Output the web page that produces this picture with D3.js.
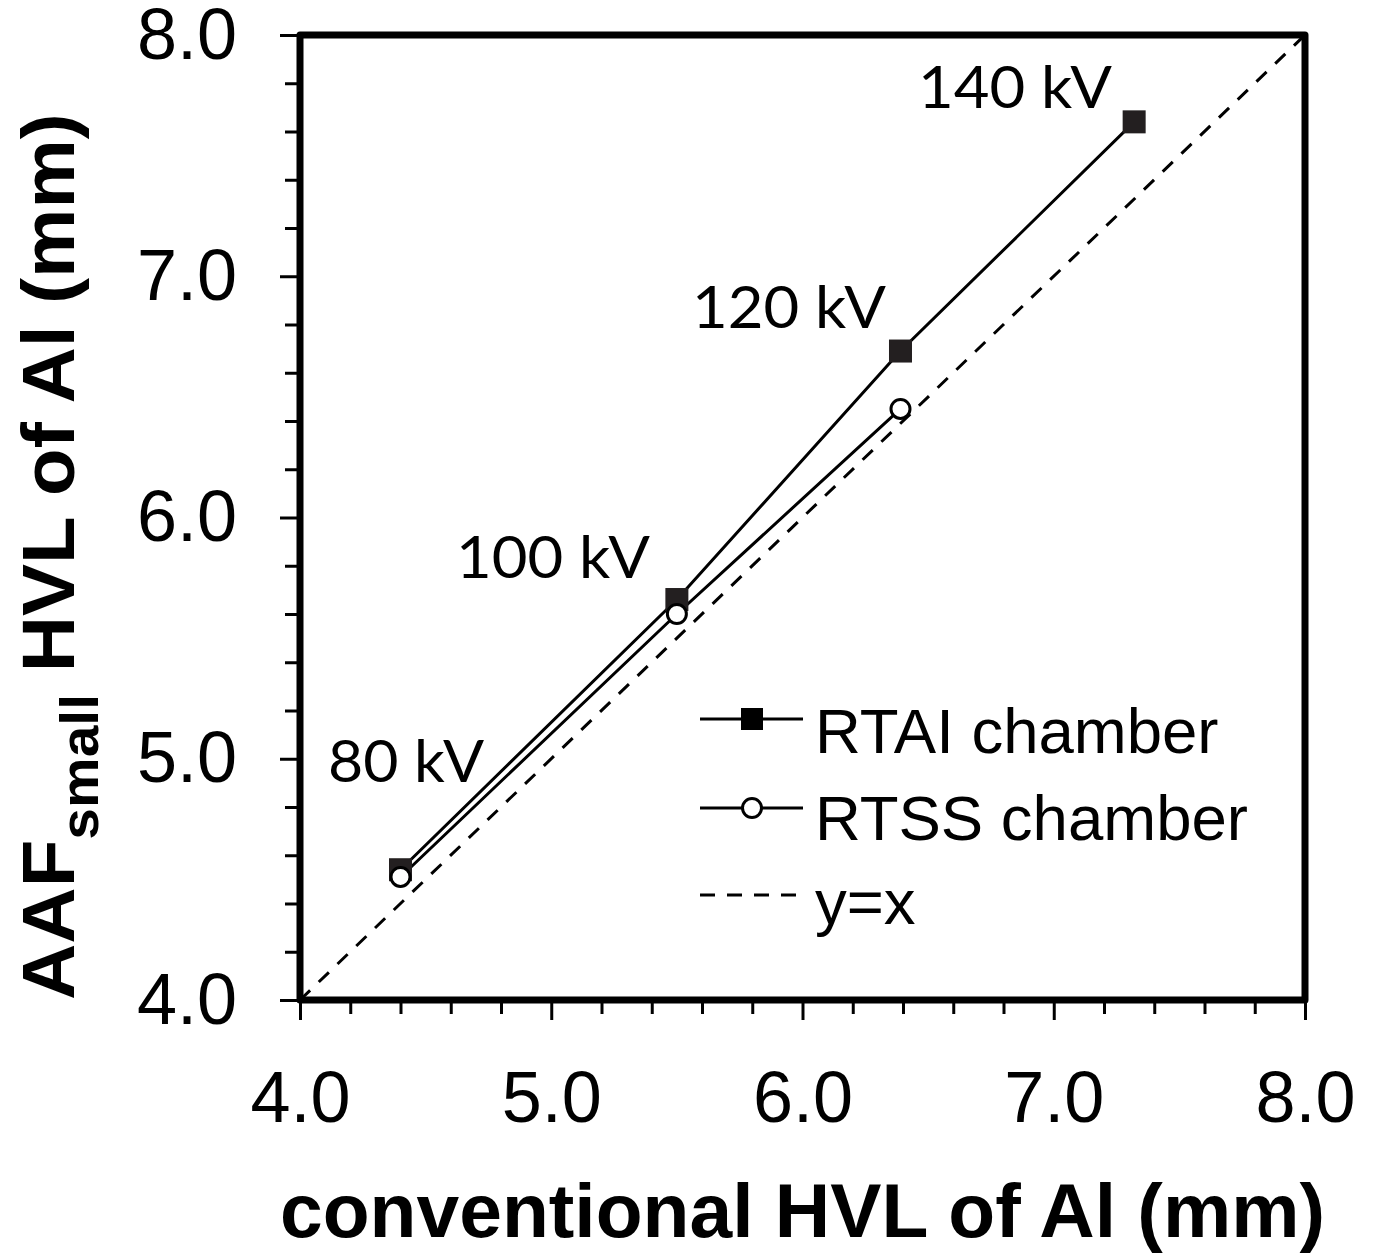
<!DOCTYPE html>
<html>
<head>
<meta charset="utf-8">
<script src="https://cdn.jsdelivr.net/npm/d3@7"></script>
<style>
  html, body { margin: 0; padding: 0; background: #fff; }
  svg { display: block; }
</style>
</head>
<body>
<svg id="chart" width="1378" height="1253"></svg>
<script>
// Half-value layer of aluminium: small-field AAF vs conventional measurement
const tubeVoltages = ["80 kV", "100 kV", "120 kV", "140 kV"];
const conventionalHVL = [4.40, 5.50, 6.39, 7.32];
const rtaiHVL = [4.54, 5.66, 6.69, 7.64];
const rtssHVL = [4.51, 5.60, 6.45];
const majorTicks = [4, 5, 6, 7, 8];
const minorTicks = [4.2, 4.4, 4.6, 4.8, 5.2, 5.4, 5.6, 5.8, 6.2, 6.4, 6.6, 6.8, 7.2, 7.4, 7.6, 7.8];
const tickLabels = ["4.0", "5.0", "6.0", "7.0", "8.0"];
const legendLabels = ["RTAI chamber", "RTSS chamber", "y=x"];

const svg = d3.select("#chart");
const plotLeft = 300, plotRight = 1305, plotTop = 35, plotBottom = 1000;

const x = d3.scaleLinear().domain([4, 8]).range([plotLeft, plotRight]);
const y = d3.scaleLinear().domain([4, 8]).range([plotBottom, plotTop]);

const sans = "'Liberation Sans', Arial, Helvetica, sans-serif";
const labelFont = "Lato, 'Open Sans', sans-serif";

// ---- ticks ----
function styleAxis(g) {
  g.select(".domain").remove();
  g.selectAll(".tick line").attr("stroke", "#000").attr("stroke-width", 3);
  g.selectAll(".tick text").attr("fill", "#000").attr("font-family", sans).attr("font-size", 72);
}

svg.append("g").attr("transform", `translate(${plotLeft},0)`)
  .call(d3.axisLeft(y).tickValues(minorTicks).tickSize(15).tickFormat(""))
  .call(styleAxis);
svg.append("g").attr("transform", `translate(${plotLeft},0)`)
  .call(d3.axisLeft(y).tickValues(majorTicks).tickSize(20).tickPadding(43)
        .tickFormat((d, i) => tickLabels[i]))
  .call(styleAxis);

svg.append("g").attr("transform", `translate(0,${plotBottom})`)
  .call(d3.axisBottom(x).tickValues(minorTicks).tickSize(14).tickFormat(""))
  .call(styleAxis);
svg.append("g").attr("transform", `translate(0,${plotBottom})`)
  .call(d3.axisBottom(x).tickValues(majorTicks).tickSize(20).tickPadding(51)
        .tickFormat((d, i) => tickLabels[i]))
  .call(styleAxis);

// ---- identity line ----
svg.append("line")
  .attr("x1", x(4)).attr("y1", y(4)).attr("x2", x(8)).attr("y2", y(8))
  .attr("stroke", "#000").attr("stroke-width", 3).attr("stroke-dasharray", "14,12");

// ---- series ----
const line = d3.line().x(d => x(d[0])).y(d => y(d[1]));
const rtaiPts = conventionalHVL.map((v, i) => [v, rtaiHVL[i]]);
const rtssPts = rtssHVL.map((v, i) => [conventionalHVL[i], v]);

svg.append("path").datum(rtaiPts).attr("d", line)
  .attr("fill", "none").attr("stroke", "#000").attr("stroke-width", 3);
svg.append("path").datum(rtssPts).attr("d", line)
  .attr("fill", "none").attr("stroke", "#000").attr("stroke-width", 3);

const sq = 23;
svg.selectAll("rect.rtai").data(rtaiPts).enter().append("rect")
  .attr("class", "rtai")
  .attr("x", d => x(d[0]) - sq / 2).attr("y", d => y(d[1]) - sq / 2)
  .attr("width", sq).attr("height", sq)
  .attr("fill", "#231f20");
svg.selectAll("circle.rtss").data(rtssPts).enter().append("circle")
  .attr("class", "rtss")
  .attr("cx", d => x(d[0])).attr("cy", d => y(d[1])).attr("r", 9.5)
  .attr("fill", "#fff").attr("stroke", "#000").attr("stroke-width", 3);

// ---- voltage labels ----
const labelPos = [[328, 782, 156], [456, 578, 194], [692, 328, 194], [918, 108, 194]];
svg.selectAll("text.kv").data(tubeVoltages).enter().append("text")
  .attr("class", "kv")
  .attr("x", (d, i) => labelPos[i][0]).attr("y", (d, i) => labelPos[i][1])
  .attr("textLength", (d, i) => labelPos[i][2]).attr("lengthAdjust", "spacingAndGlyphs")
  .attr("font-family", labelFont).attr("font-size", 59).attr("fill", "#000")
  .text(d => d);

// ---- frame ----
svg.append("rect")
  .attr("x", plotLeft).attr("y", plotTop)
  .attr("width", plotRight - plotLeft).attr("height", plotBottom - plotTop)
  .attr("fill", "none").attr("stroke", "#000").attr("stroke-width", 7)
  .attr("stroke-linejoin", "round");

// ---- legend ----
const lg = svg.append("g");
const lx0 = 700, lx1 = 803, lmid = 752, ltext = 815;
const rows = [719, 808, 895];
lg.append("line").attr("x1", lx0).attr("x2", lx1).attr("y1", rows[0]).attr("y2", rows[0])
  .attr("stroke", "#000").attr("stroke-width", 3);
lg.append("rect").attr("x", lmid - 11).attr("y", rows[0] - 11).attr("width", 22).attr("height", 22)
  .attr("fill", "#000");
lg.append("line").attr("x1", lx0).attr("x2", lx1).attr("y1", rows[1]).attr("y2", rows[1])
  .attr("stroke", "#000").attr("stroke-width", 3);
lg.append("circle").attr("cx", lmid).attr("cy", rows[1]).attr("r", 9.5)
  .attr("fill", "#fff").attr("stroke", "#000").attr("stroke-width", 3);
lg.append("line").attr("x1", lx0).attr("x2", lx1).attr("y1", rows[2]).attr("y2", rows[2])
  .attr("stroke", "#000").attr("stroke-width", 3).attr("stroke-dasharray", "15,12");
const textBase = [753, 840, 924];
lg.selectAll("text").data(legendLabels).enter().append("text")
  .attr("x", ltext).attr("y", (d, i) => textBase[i])
  .attr("font-family", sans).attr("font-size", 63.5).attr("fill", "#000")
  .text(d => d);

// ---- axis titles ----
svg.append("text")
  .attr("x", 280).attr("y", 1237)
  .attr("textLength", 1045).attr("lengthAdjust", "spacingAndGlyphs")
  .attr("font-family", sans).attr("font-weight", "bold").attr("font-size", 76)
  .attr("fill", "#000")
  .text("conventional HVL of Al (mm)");

const yt = svg.append("text")
  .attr("transform", "translate(74,1000) rotate(-90)")
  .attr("font-family", sans).attr("font-weight", "bold").attr("font-size", 74)
  .attr("fill", "#000");
yt.append("tspan").text("AAF");
yt.append("tspan").attr("dy", 24).attr("font-size", 54).text("small");
yt.append("tspan").attr("dy", -24).text(" HVL of Al (mm)");
// fit the rotated title to its span along the axis
const span = 887;
const w = yt.node().getComputedTextLength();
yt.attr("transform", `translate(74,1000) rotate(-90) scale(${span / w},1)`);
</script>
</body>
</html>
